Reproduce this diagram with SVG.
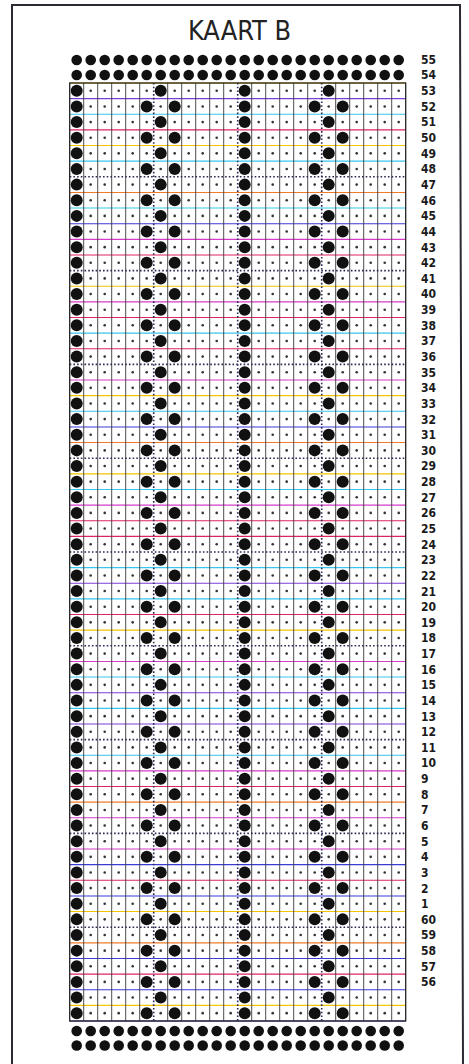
<svg xmlns="http://www.w3.org/2000/svg" xmlns:xlink="http://www.w3.org/1999/xlink" width="469" height="1064" viewBox="0 0 469 1064">
<style>
.bg{fill:#ffffff}
.border{fill:none;stroke:#2a2a33;stroke-width:2}
.title{font-family:"DejaVu Sans Condensed","DejaVu Sans","Liberation Sans",sans-serif;font-stretch:condensed;font-size:26px;fill:#222}
.lab{font-family:"DejaVu Sans Condensed","DejaVu Sans","Liberation Sans",sans-serif;font-stretch:condensed;font-weight:bold;font-size:12px;fill:#1a1a1a}
.vl{fill:none;stroke:#3a3a3a;stroke-width:0.9}
.frame{fill:none;stroke:#222;stroke-width:1.3}
.dv{fill:none;stroke:#2a2a55;stroke-width:1.6;stroke-dasharray:1.6 2.1}
.hl{stroke-width:1.1}
.p{stroke:#7a3fd8}.c{stroke:#37c6ee}.r{stroke:#e0245e}.y{stroke:#f2c500}.o{stroke:#f07a28}.b{stroke:#3b3bd6}.m{stroke:#d63cc8}
.hole{fill:#111}
.dot{fill:#333}
.feed{fill:#111}
</style>
<defs>
<g id="rowA">
<circle class="hole" cx="76.7" cy="0" r="6"/><circle class="hole" cx="160.7" cy="0" r="6"/><circle class="hole" cx="244.7" cy="0" r="6"/><circle class="hole" cx="328.7" cy="0" r="6"/>
<circle class="dot" cx="90.7" cy="0" r="1.3"/><circle class="dot" cx="104.7" cy="0" r="1.3"/><circle class="dot" cx="118.7" cy="0" r="1.3"/><circle class="dot" cx="132.7" cy="0" r="1.3"/><circle class="dot" cx="146.7" cy="0" r="1.3"/>
<circle class="dot" cx="174.7" cy="0" r="1.3"/><circle class="dot" cx="188.7" cy="0" r="1.3"/><circle class="dot" cx="202.7" cy="0" r="1.3"/><circle class="dot" cx="216.7" cy="0" r="1.3"/><circle class="dot" cx="230.7" cy="0" r="1.3"/>
<circle class="dot" cx="258.7" cy="0" r="1.3"/><circle class="dot" cx="272.7" cy="0" r="1.3"/><circle class="dot" cx="286.7" cy="0" r="1.3"/><circle class="dot" cx="300.7" cy="0" r="1.3"/><circle class="dot" cx="314.7" cy="0" r="1.3"/>
<circle class="dot" cx="342.7" cy="0" r="1.3"/><circle class="dot" cx="356.7" cy="0" r="1.3"/><circle class="dot" cx="370.7" cy="0" r="1.3"/><circle class="dot" cx="384.7" cy="0" r="1.3"/><circle class="dot" cx="398.7" cy="0" r="1.3"/>
</g>
<g id="rowB">
<circle class="hole" cx="76.7" cy="0" r="6"/><circle class="hole" cx="146.7" cy="0" r="6"/><circle class="hole" cx="174.7" cy="0" r="6"/><circle class="hole" cx="244.7" cy="0" r="6"/><circle class="hole" cx="314.7" cy="0" r="6"/><circle class="hole" cx="342.7" cy="0" r="6"/>
<circle class="dot" cx="90.7" cy="0" r="1.3"/><circle class="dot" cx="104.7" cy="0" r="1.3"/><circle class="dot" cx="118.7" cy="0" r="1.3"/><circle class="dot" cx="132.7" cy="0" r="1.3"/>
<circle class="dot" cx="160.7" cy="0" r="1.3"/>
<circle class="dot" cx="188.7" cy="0" r="1.3"/><circle class="dot" cx="202.7" cy="0" r="1.3"/><circle class="dot" cx="216.7" cy="0" r="1.3"/><circle class="dot" cx="230.7" cy="0" r="1.3"/>
<circle class="dot" cx="258.7" cy="0" r="1.3"/><circle class="dot" cx="272.7" cy="0" r="1.3"/><circle class="dot" cx="286.7" cy="0" r="1.3"/><circle class="dot" cx="300.7" cy="0" r="1.3"/>
<circle class="dot" cx="328.7" cy="0" r="1.3"/>
<circle class="dot" cx="356.7" cy="0" r="1.3"/><circle class="dot" cx="370.7" cy="0" r="1.3"/><circle class="dot" cx="384.7" cy="0" r="1.3"/><circle class="dot" cx="398.7" cy="0" r="1.3"/>
</g>
<g id="feedRow">
<circle class="feed" cx="76.7" cy="0" r="5.3"/><circle class="feed" cx="90.7" cy="0" r="5.3"/><circle class="feed" cx="104.7" cy="0" r="5.3"/><circle class="feed" cx="118.7" cy="0" r="5.3"/><circle class="feed" cx="132.7" cy="0" r="5.3"/><circle class="feed" cx="146.7" cy="0" r="5.3"/>
<circle class="feed" cx="160.7" cy="0" r="5.3"/><circle class="feed" cx="174.7" cy="0" r="5.3"/><circle class="feed" cx="188.7" cy="0" r="5.3"/><circle class="feed" cx="202.7" cy="0" r="5.3"/><circle class="feed" cx="216.7" cy="0" r="5.3"/><circle class="feed" cx="230.7" cy="0" r="5.3"/>
<circle class="feed" cx="244.7" cy="0" r="5.3"/><circle class="feed" cx="258.7" cy="0" r="5.3"/><circle class="feed" cx="272.7" cy="0" r="5.3"/><circle class="feed" cx="286.7" cy="0" r="5.3"/><circle class="feed" cx="300.7" cy="0" r="5.3"/><circle class="feed" cx="314.7" cy="0" r="5.3"/>
<circle class="feed" cx="328.7" cy="0" r="5.3"/><circle class="feed" cx="342.7" cy="0" r="5.3"/><circle class="feed" cx="356.7" cy="0" r="5.3"/><circle class="feed" cx="370.7" cy="0" r="5.3"/><circle class="feed" cx="384.7" cy="0" r="5.3"/><circle class="feed" cx="398.7" cy="0" r="5.3"/>
</g>
</defs>
<rect class="bg" x="0" y="0" width="469" height="1064"/>
<path id="border" class="border" d="M12,1064 L12,5 L460,5 L463,1064"/>
<text id="title" class="title" x="188" y="39.5" textLength="103" lengthAdjust="spacingAndGlyphs">KAART B</text>

<g id="grid-lines">
<line class="hl y" x1="69.7" y1="83" x2="405.7" y2="83"/>
<line class="hl p" x1="69.7" y1="98.63" x2="405.7" y2="98.63"/>
<line class="hl c" x1="69.7" y1="114.27" x2="405.7" y2="114.27"/>
<line class="hl r" x1="69.7" y1="129.9" x2="405.7" y2="129.9"/>
<line class="hl y" x1="69.7" y1="145.53" x2="405.7" y2="145.53"/>
<line class="hl c" x1="69.7" y1="161.17" x2="405.7" y2="161.17"/>
<line class="hl o" x1="69.7" y1="192.43" x2="405.7" y2="192.43"/>
<line class="hl c" x1="69.7" y1="208.07" x2="405.7" y2="208.07"/>
<line class="hl b" x1="69.7" y1="223.7" x2="405.7" y2="223.7"/>
<line class="hl m" x1="69.7" y1="239.33" x2="405.7" y2="239.33"/>
<line class="hl r" x1="69.7" y1="254.97" x2="405.7" y2="254.97"/>
<line class="hl y" x1="69.7" y1="286.23" x2="405.7" y2="286.23"/>
<line class="hl m" x1="69.7" y1="301.87" x2="405.7" y2="301.87"/>
<line class="hl r" x1="69.7" y1="317.5" x2="405.7" y2="317.5"/>
<line class="hl c" x1="69.7" y1="333.13" x2="405.7" y2="333.13"/>
<line class="hl r" x1="69.7" y1="348.77" x2="405.7" y2="348.77"/>
<line class="hl m" x1="69.7" y1="380.03" x2="405.7" y2="380.03"/>
<line class="hl y" x1="69.7" y1="395.67" x2="405.7" y2="395.67"/>
<line class="hl c" x1="69.7" y1="411.3" x2="405.7" y2="411.3"/>
<line class="hl b" x1="69.7" y1="426.93" x2="405.7" y2="426.93"/>
<line class="hl o" x1="69.7" y1="442.57" x2="405.7" y2="442.57"/>
<line class="hl y" x1="69.7" y1="473.83" x2="405.7" y2="473.83"/>
<line class="hl c" x1="69.7" y1="489.47" x2="405.7" y2="489.47"/>
<line class="hl m" x1="69.7" y1="505.1" x2="405.7" y2="505.1"/>
<line class="hl r" x1="69.7" y1="520.73" x2="405.7" y2="520.73"/>
<line class="hl r" x1="69.7" y1="536.37" x2="405.7" y2="536.37"/>
<line class="hl c" x1="69.7" y1="567.63" x2="405.7" y2="567.63"/>
<line class="hl p" x1="69.7" y1="583.27" x2="405.7" y2="583.27"/>
<line class="hl c" x1="69.7" y1="598.9" x2="405.7" y2="598.9"/>
<line class="hl r" x1="69.7" y1="614.53" x2="405.7" y2="614.53"/>
<line class="hl y" x1="69.7" y1="630.17" x2="405.7" y2="630.17"/>
<line class="hl m" x1="69.7" y1="661.43" x2="405.7" y2="661.43"/>
<line class="hl c" x1="69.7" y1="677.07" x2="405.7" y2="677.07"/>
<line class="hl p" x1="69.7" y1="692.7" x2="405.7" y2="692.7"/>
<line class="hl c" x1="69.7" y1="708.33" x2="405.7" y2="708.33"/>
<line class="hl p" x1="69.7" y1="723.97" x2="405.7" y2="723.97"/>
<line class="hl c" x1="69.7" y1="755.23" x2="405.7" y2="755.23"/>
<line class="hl m" x1="69.7" y1="770.87" x2="405.7" y2="770.87"/>
<line class="hl r" x1="69.7" y1="786.5" x2="405.7" y2="786.5"/>
<line class="hl o" x1="69.7" y1="802.13" x2="405.7" y2="802.13"/>
<line class="hl m" x1="69.7" y1="817.77" x2="405.7" y2="817.77"/>
<line class="hl m" x1="69.7" y1="849.03" x2="405.7" y2="849.03"/>
<line class="hl b" x1="69.7" y1="864.67" x2="405.7" y2="864.67"/>
<line class="hl r" x1="69.7" y1="880.3" x2="405.7" y2="880.3"/>
<line class="hl b" x1="69.7" y1="895.93" x2="405.7" y2="895.93"/>
<line class="hl y" x1="69.7" y1="911.57" x2="405.7" y2="911.57"/>
<line class="hl o" x1="69.7" y1="942.83" x2="405.7" y2="942.83"/>
<line class="hl b" x1="69.7" y1="958.47" x2="405.7" y2="958.47"/>
<line class="hl r" x1="69.7" y1="974.1" x2="405.7" y2="974.1"/>
<line class="hl b" x1="69.7" y1="989.73" x2="405.7" y2="989.73"/>
<line class="hl y" x1="69.7" y1="1005.37" x2="405.7" y2="1005.37"/>
<line class="hl b" x1="69.7" y1="1021" x2="405.7" y2="1021"/>
<path class="vl" d="M83.7,83V1021M97.7,83V1021M111.7,83V1021M125.7,83V1021M139.7,83V1021M167.7,83V1021M181.7,83V1021M195.7,83V1021M209.7,83V1021M223.7,83V1021M251.7,83V1021M265.7,83V1021M279.7,83V1021M293.7,83V1021M307.7,83V1021M335.7,83V1021M349.7,83V1021M363.7,83V1021M377.7,83V1021M391.7,83V1021"/>
<path class="dv" d="M153.7,83V1021M237.7,83V1021M321.7,83V1021"/>
<path class="dv" d="M69.7,176.8H405.7M69.7,270.6H405.7M69.7,364.4H405.7M69.7,458.2H405.7M69.7,552H405.7M69.7,645.8H405.7M69.7,739.6H405.7M69.7,833.4H405.7M69.7,927.2H405.7"/>
<rect class="frame" x="69.7" y="83" width="336" height="938"/>
</g>

<g id="card-rows">
<use xlink:href="#rowA" href="#rowA" y="90.82"/>
<use xlink:href="#rowB" href="#rowB" y="106.45"/>
<use xlink:href="#rowA" href="#rowA" y="122.08"/>
<use xlink:href="#rowB" href="#rowB" y="137.72"/>
<use xlink:href="#rowA" href="#rowA" y="153.35"/>
<use xlink:href="#rowB" href="#rowB" y="168.98"/>
<use xlink:href="#rowA" href="#rowA" y="184.62"/>
<use xlink:href="#rowB" href="#rowB" y="200.25"/>
<use xlink:href="#rowA" href="#rowA" y="215.88"/>
<use xlink:href="#rowB" href="#rowB" y="231.52"/>
<use xlink:href="#rowA" href="#rowA" y="247.15"/>
<use xlink:href="#rowB" href="#rowB" y="262.78"/>
<use xlink:href="#rowA" href="#rowA" y="278.41"/>
<use xlink:href="#rowB" href="#rowB" y="294.05"/>
<use xlink:href="#rowA" href="#rowA" y="309.68"/>
<use xlink:href="#rowB" href="#rowB" y="325.31"/>
<use xlink:href="#rowA" href="#rowA" y="340.95"/>
<use xlink:href="#rowB" href="#rowB" y="356.58"/>
<use xlink:href="#rowA" href="#rowA" y="372.21"/>
<use xlink:href="#rowB" href="#rowB" y="387.85"/>
<use xlink:href="#rowA" href="#rowA" y="403.48"/>
<use xlink:href="#rowB" href="#rowB" y="419.11"/>
<use xlink:href="#rowA" href="#rowA" y="434.74"/>
<use xlink:href="#rowB" href="#rowB" y="450.38"/>
<use xlink:href="#rowA" href="#rowA" y="466.01"/>
<use xlink:href="#rowB" href="#rowB" y="481.64"/>
<use xlink:href="#rowA" href="#rowA" y="497.28"/>
<use xlink:href="#rowB" href="#rowB" y="512.91"/>
<use xlink:href="#rowA" href="#rowA" y="528.54"/>
<use xlink:href="#rowB" href="#rowB" y="544.18"/>
<use xlink:href="#rowA" href="#rowA" y="559.81"/>
<use xlink:href="#rowB" href="#rowB" y="575.44"/>
<use xlink:href="#rowA" href="#rowA" y="591.07"/>
<use xlink:href="#rowB" href="#rowB" y="606.71"/>
<use xlink:href="#rowA" href="#rowA" y="622.34"/>
<use xlink:href="#rowB" href="#rowB" y="637.97"/>
<use xlink:href="#rowA" href="#rowA" y="653.61"/>
<use xlink:href="#rowB" href="#rowB" y="669.24"/>
<use xlink:href="#rowA" href="#rowA" y="684.87"/>
<use xlink:href="#rowB" href="#rowB" y="700.51"/>
<use xlink:href="#rowA" href="#rowA" y="716.14"/>
<use xlink:href="#rowB" href="#rowB" y="731.77"/>
<use xlink:href="#rowA" href="#rowA" y="747.41"/>
<use xlink:href="#rowB" href="#rowB" y="763.04"/>
<use xlink:href="#rowA" href="#rowA" y="778.67"/>
<use xlink:href="#rowB" href="#rowB" y="794.3"/>
<use xlink:href="#rowA" href="#rowA" y="809.94"/>
<use xlink:href="#rowB" href="#rowB" y="825.57"/>
<use xlink:href="#rowA" href="#rowA" y="841.2"/>
<use xlink:href="#rowB" href="#rowB" y="856.84"/>
<use xlink:href="#rowA" href="#rowA" y="872.47"/>
<use xlink:href="#rowB" href="#rowB" y="888.1"/>
<use xlink:href="#rowA" href="#rowA" y="903.74"/>
<use xlink:href="#rowB" href="#rowB" y="919.37"/>
<use xlink:href="#rowA" href="#rowA" y="935"/>
<use xlink:href="#rowB" href="#rowB" y="950.63"/>
<use xlink:href="#rowA" href="#rowA" y="966.27"/>
<use xlink:href="#rowB" href="#rowB" y="981.9"/>
<use xlink:href="#rowA" href="#rowA" y="997.53"/>
<use xlink:href="#rowB" href="#rowB" y="1013.17"/>
</g>

<g id="feed-holes">
<use xlink:href="#feedRow" href="#feedRow" y="60"/>
<use xlink:href="#feedRow" href="#feedRow" y="75"/>
<use xlink:href="#feedRow" href="#feedRow" y="1031"/>
<use xlink:href="#feedRow" href="#feedRow" y="1045.5"/>
</g>

<g id="row-labels" class="lab">
<text x="421" y="64.3">55</text>
<text x="421" y="79.3">54</text>
<text x="421" y="95.2">53</text>
<text x="421" y="110.8">52</text>
<text x="421" y="126.4">51</text>
<text x="421" y="142.1">50</text>
<text x="421" y="157.7">49</text>
<text x="421" y="173.4">48</text>
<text x="421" y="189">47</text>
<text x="421" y="204.6">46</text>
<text x="421" y="220.3">45</text>
<text x="421" y="235.9">44</text>
<text x="421" y="251.5">43</text>
<text x="421" y="267.2">42</text>
<text x="421" y="282.8">41</text>
<text x="421" y="298.4">40</text>
<text x="421" y="314.1">39</text>
<text x="421" y="329.7">38</text>
<text x="421" y="345.3">37</text>
<text x="421" y="361">36</text>
<text x="421" y="376.6">35</text>
<text x="421" y="392.2">34</text>
<text x="421" y="407.9">33</text>
<text x="421" y="423.5">32</text>
<text x="421" y="439.1">31</text>
<text x="421" y="454.8">30</text>
<text x="421" y="470.4">29</text>
<text x="421" y="486">28</text>
<text x="421" y="501.7">27</text>
<text x="421" y="517.3">26</text>
<text x="421" y="532.9">25</text>
<text x="421" y="548.6">24</text>
<text x="421" y="564.2">23</text>
<text x="421" y="579.8">22</text>
<text x="421" y="595.5">21</text>
<text x="421" y="611.1">20</text>
<text x="421" y="626.7">19</text>
<text x="421" y="642.4">18</text>
<text x="421" y="658">17</text>
<text x="421" y="673.6">16</text>
<text x="421" y="689.3">15</text>
<text x="421" y="704.9">14</text>
<text x="421" y="720.5">13</text>
<text x="421" y="736.2">12</text>
<text x="421" y="751.8">11</text>
<text x="421" y="767.4">10</text>
<text x="421" y="783.1">9</text>
<text x="421" y="798.7">8</text>
<text x="421" y="814.3">7</text>
<text x="421" y="830">6</text>
<text x="421" y="845.6">5</text>
<text x="421" y="861.2">4</text>
<text x="421" y="876.9">3</text>
<text x="421" y="892.5">2</text>
<text x="421" y="908.1">1</text>
<text x="421" y="923.8">60</text>
<text x="421" y="939.4">59</text>
<text x="421" y="955">58</text>
<text x="421" y="970.7">57</text>
<text x="421" y="986.3">56</text>
</g>
</svg>
